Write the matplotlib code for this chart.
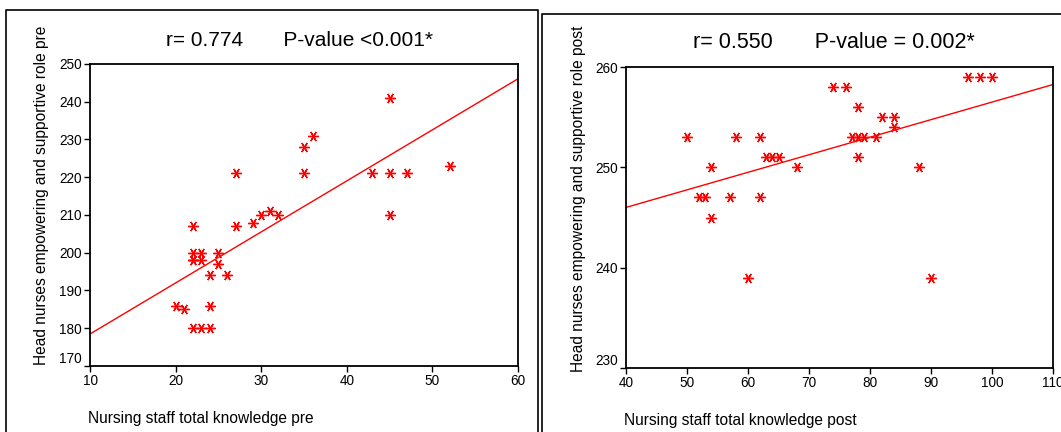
import numpy as np
import matplotlib.pyplot as plt
from matplotlib.lines import Line2D
from matplotlib.transforms import ScaledTranslation

# knowledge vs. head nurse role scores, before the programme
pre_knowledge = [20, 21, 22, 22, 22, 22, 22, 23, 23, 23, 24, 24, 24, 25, 25, 26,
                 27, 27, 29, 30, 31, 32, 35, 35, 36, 43, 45, 45, 45, 47, 52]
pre_role = [186, 185, 207, 200, 198, 180, 198, 200, 198, 180, 194, 186, 180, 200, 197, 194,
            221, 207, 208, 210, 211, 210, 228, 221, 231, 221, 241, 221, 210, 221, 223]

# and after the programme
post_knowledge = [50, 52, 53, 54, 54, 57, 58, 60, 62, 62, 63, 64, 65, 68, 74, 76,
                  77, 78, 78, 78, 79, 81, 82, 84, 84, 88, 90, 96, 98, 100]
post_role = [253, 247, 247, 250, 245, 247, 253, 239, 253, 247, 251, 251, 251, 250, 258, 258,
             253, 256, 253, 251, 253, 253, 255, 255, 254, 250, 239, 259, 259, 259]

titles = ["r= 0.774       P-value <0.001*", "r= 0.550       P-value = 0.002*"]
xlabels = ["Nursing staff total knowledge pre", "Nursing staff total knowledge post"]
ylabels = ["Head nurses empowering and supportive role pre",
           "Head nurses empowering and supportive role post"]

plt.rcParams['font.family'] = ['Liberation Sans', 'DejaVu Sans']

fig = plt.figure(figsize=(10.61, 4.32), dpi=100)
W, H = 1061, 432

def px_axes(x0, y0, x1, y1):
    return fig.add_axes([x0 / W, 1 - y1 / H, (x1 - x0) / W, (y1 - y0) / H])

ax1 = px_axes(90, 64, 518, 366)
ax2 = px_axes(626, 67, 1053, 368)

# axes, data, limits, x-label row, y-label column/centre (pixels)
panels = [
    (ax1, pre_knowledge, pre_role, (10, 60), (170, 250), 418, 42, 195),
    (ax2, post_knowledge, post_role, (40, 110), (230, 260), 420, 578, 199),
]

star = (6, 2, 90)
for i, (ax, x, y, xlim, ylim, xlab_y, ylab_x, ylab_y) in enumerate(panels):
    x = np.array(x)
    y = np.array(y)
    ax.plot(x, y, linestyle='none', marker=star, color='red',
            markersize=7.5, markeredgewidth=1.0)
    slope, icpt = np.polyfit(x, y, 1)
    xs = np.array(xlim)
    ax.plot(xs, icpt + slope * xs, color='red', linewidth=1.0)

    ax.set_xlim(xlim)
    ax.set_ylim(ylim)
    ax.set_xticks(np.arange(xlim[0], xlim[1] + 1, 10))
    ax.set_yticks(np.arange(ylim[0], ylim[1] + 1, 10))
    ax.tick_params(direction='out', length=4, width=1, labelsize=9.8, pad=2)
    for s in ax.spines.values():
        s.set_linewidth(1.3)
    # lowest y label sits a little above the corner
    lab = ax.get_yticklabels()[0]
    lab.set_transform(lab.get_transform() + ScaledTranslation(0, 6 / 72, fig.dpi_scale_trans))

    fig.text(ylab_x / W, 1 - ylab_y / H, ylabels[i], fontsize=11.2,
             rotation=90, ha='center', va='center')
    fig.text(ax.get_position().x0 - 2 / W, 1 - xlab_y / H, xlabels[i],
             fontsize=11.2, ha='left', va='center')

fig.text(300 / W, 1 - 40 / H, titles[0], fontsize=15, ha='center', va='center')
fig.text(834 / W, 1 - 43 / H, titles[1], fontsize=15.5, ha='center', va='center')

# panel frames
def fig_line(xs, ys):
    fig.add_artist(Line2D([v / W for v in xs], [1 - v / H for v in ys],
                          color='black', linewidth=1.2))

fig_line([6, 6, 538, 538], [432, 9.5, 9.5, 432])
fig_line([542, 542, 1061], [432, 13.5, 13.5])

fig.savefig('out.png', dpi=100)
